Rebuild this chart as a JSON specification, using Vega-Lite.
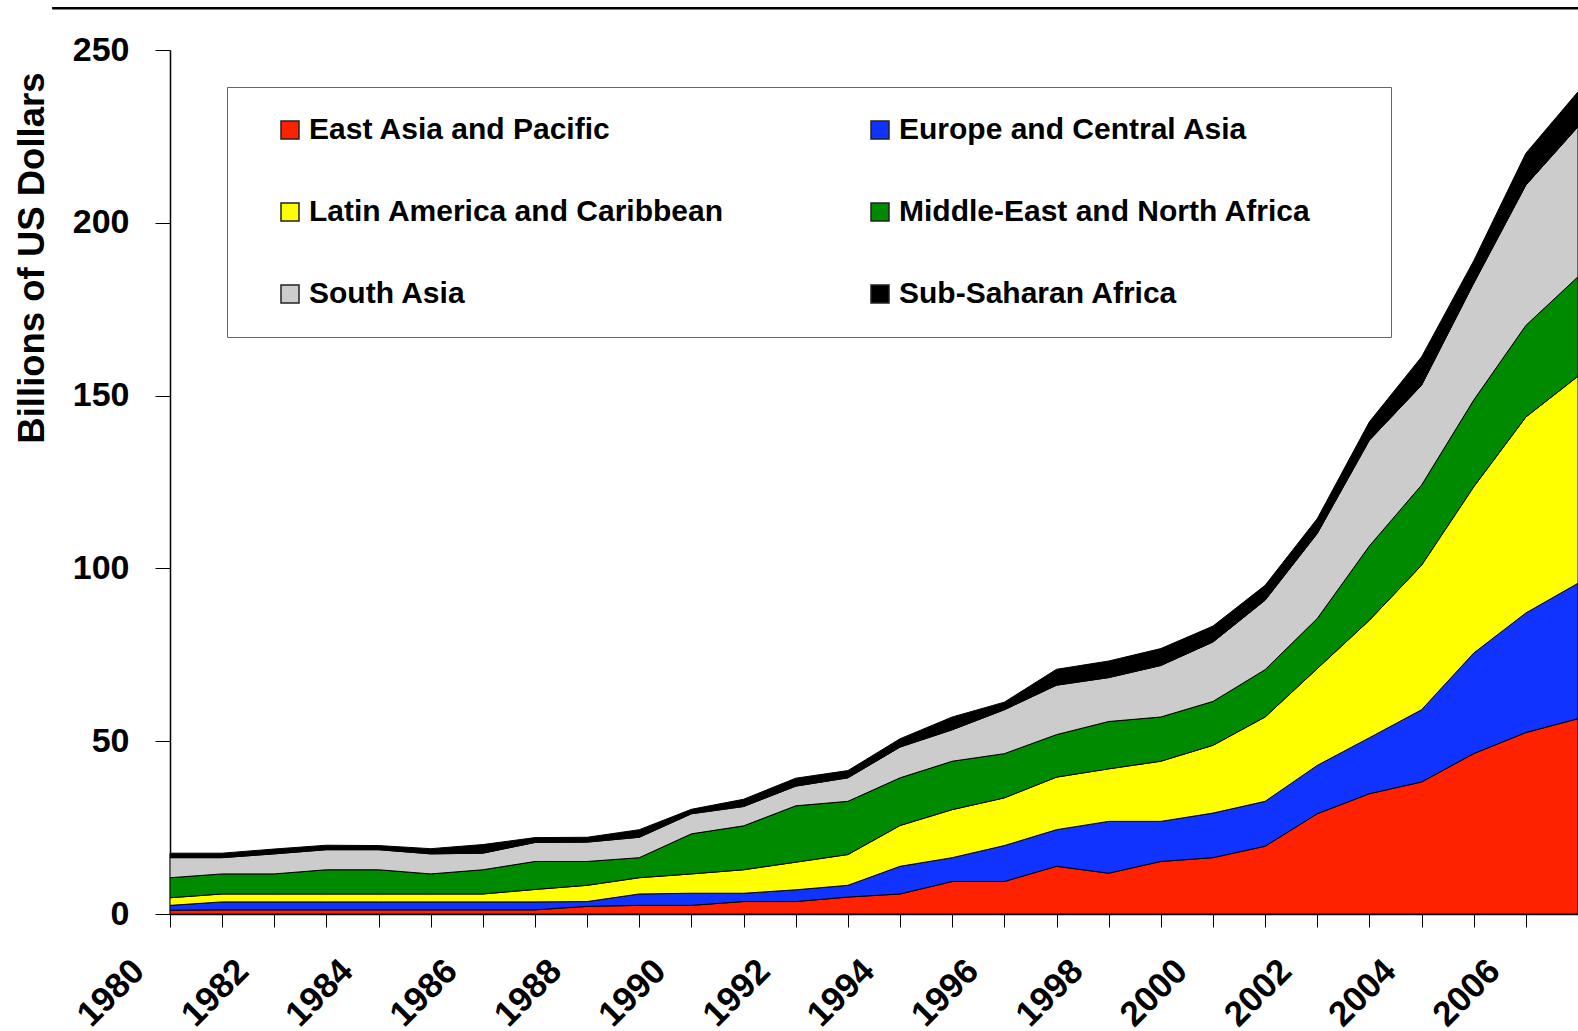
{
  "$schema": "https://vega.github.io/schema/vega-lite/v6.json",
  "width": 1408,
  "height": 864,
  "autosize": {"type": "none"},
  "padding": {"left": 170, "top": 50, "right": 0, "bottom": 117},
  "background": "white",
  "config": {"view": {"stroke": null}, "font": "Liberation Sans"},
  "layer": [
    {
      "data": {"values": [
        {"year": 1980, "East Asia and Pacific": 1.1, "Europe and Central Asia": 1.4, "Latin America and Caribbean": 2.2, "Middle-East and North Africa": 5.8, "South Asia": 5.8, "Sub-Saharan Africa": 1.3},
        {"year": 1981, "East Asia and Pacific": 1.2, "Europe and Central Asia": 2.3, "Latin America and Caribbean": 2.3, "Middle-East and North Africa": 5.8, "South Asia": 4.7, "Sub-Saharan Africa": 1.3},
        {"year": 1982, "East Asia and Pacific": 1.2, "Europe and Central Asia": 2.3, "Latin America and Caribbean": 2.3, "Middle-East and North Africa": 5.8, "South Asia": 5.8, "Sub-Saharan Africa": 1.4},
        {"year": 1983, "East Asia and Pacific": 1.2, "Europe and Central Asia": 2.3, "Latin America and Caribbean": 2.3, "Middle-East and North Africa": 7.0, "South Asia": 5.8, "Sub-Saharan Africa": 1.3},
        {"year": 1984, "East Asia and Pacific": 1.2, "Europe and Central Asia": 2.3, "Latin America and Caribbean": 2.3, "Middle-East and North Africa": 7.0, "South Asia": 5.8, "Sub-Saharan Africa": 1.2},
        {"year": 1985, "East Asia and Pacific": 1.2, "Europe and Central Asia": 2.3, "Latin America and Caribbean": 2.3, "Middle-East and North Africa": 5.8, "South Asia": 5.8, "Sub-Saharan Africa": 1.5},
        {"year": 1986, "East Asia and Pacific": 1.2, "Europe and Central Asia": 2.3, "Latin America and Caribbean": 2.3, "Middle-East and North Africa": 7.0, "South Asia": 4.8, "Sub-Saharan Africa": 2.5},
        {"year": 1987, "East Asia and Pacific": 1.2, "Europe and Central Asia": 2.3, "Latin America and Caribbean": 3.6, "Middle-East and North Africa": 8.1, "South Asia": 5.5, "Sub-Saharan Africa": 1.4},
        {"year": 1988, "East Asia and Pacific": 2.2, "Europe and Central Asia": 1.4, "Latin America and Caribbean": 4.7, "Middle-East and North Africa": 6.9, "South Asia": 5.6, "Sub-Saharan Africa": 1.4},
        {"year": 1989, "East Asia and Pacific": 2.5, "Europe and Central Asia": 3.3, "Latin America and Caribbean": 4.7, "Middle-East and North Africa": 5.8, "South Asia": 5.9, "Sub-Saharan Africa": 2.2},
        {"year": 1990, "East Asia and Pacific": 2.5, "Europe and Central Asia": 3.5, "Latin America and Caribbean": 5.6, "Middle-East and North Africa": 11.6, "South Asia": 5.8, "Sub-Saharan Africa": 1.3},
        {"year": 1991, "East Asia and Pacific": 3.6, "Europe and Central Asia": 2.4, "Latin America and Caribbean": 6.8, "Middle-East and North Africa": 12.7, "South Asia": 5.6, "Sub-Saharan Africa": 2.1},
        {"year": 1992, "East Asia and Pacific": 3.6, "Europe and Central Asia": 3.4, "Latin America and Caribbean": 8.0, "Middle-East and North Africa": 16.3, "South Asia": 5.7, "Sub-Saharan Africa": 2.3},
        {"year": 1993, "East Asia and Pacific": 4.9, "Europe and Central Asia": 3.4, "Latin America and Caribbean": 8.9, "Middle-East and North Africa": 15.4, "South Asia": 6.8, "Sub-Saharan Africa": 2.1},
        {"year": 1994, "East Asia and Pacific": 5.8, "Europe and Central Asia": 8.0, "Latin America and Caribbean": 11.8, "Middle-East and North Africa": 13.8, "South Asia": 8.9, "Sub-Saharan Africa": 2.4},
        {"year": 1995, "East Asia and Pacific": 9.4, "Europe and Central Asia": 6.9, "Latin America and Caribbean": 13.9, "Middle-East and North Africa": 14.0, "South Asia": 9.1, "Sub-Saharan Africa": 3.7},
        {"year": 1996, "East Asia and Pacific": 9.4, "Europe and Central Asia": 10.4, "Latin America and Caribbean": 13.8, "Middle-East and North Africa": 12.8, "South Asia": 12.7, "Sub-Saharan Africa": 2.2},
        {"year": 1997, "East Asia and Pacific": 13.8, "Europe and Central Asia": 10.6, "Latin America and Caribbean": 15.2, "Middle-East and North Africa": 12.3, "South Asia": 14.3, "Sub-Saharan Africa": 4.6},
        {"year": 1998, "East Asia and Pacific": 11.8, "Europe and Central Asia": 15.0, "Latin America and Caribbean": 15.2, "Middle-East and North Africa": 13.7, "South Asia": 12.7, "Sub-Saharan Africa": 4.8},
        {"year": 1999, "East Asia and Pacific": 15.2, "Europe and Central Asia": 11.6, "Latin America and Caribbean": 17.4, "Middle-East and North Africa": 12.8, "South Asia": 14.9, "Sub-Saharan Africa": 4.9},
        {"year": 2000, "East Asia and Pacific": 16.3, "Europe and Central Asia": 12.9, "Latin America and Caribbean": 19.6, "Middle-East and North Africa": 12.7, "South Asia": 17.2, "Sub-Saharan Africa": 4.6},
        {"year": 2001, "East Asia and Pacific": 19.6, "Europe and Central Asia": 13.0, "Latin America and Caribbean": 24.4, "Middle-East and North Africa": 13.7, "South Asia": 20.1, "Sub-Saharan Africa": 4.3},
        {"year": 2002, "East Asia and Pacific": 29.0, "Europe and Central Asia": 14.0, "Latin America and Caribbean": 28.0, "Middle-East and North Africa": 14.5, "South Asia": 24.6, "Sub-Saharan Africa": 4.3},
        {"year": 2003, "East Asia and Pacific": 34.8, "Europe and Central Asia": 16.2, "Latin America and Caribbean": 34.0, "Middle-East and North Africa": 21.5, "South Asia": 30.6, "Sub-Saharan Africa": 5.3},
        {"year": 2004, "East Asia and Pacific": 38.2, "Europe and Central Asia": 20.9, "Latin America and Caribbean": 41.8, "Middle-East and North Africa": 23.2, "South Asia": 28.9, "Sub-Saharan Africa": 8.2},
        {"year": 2005, "East Asia and Pacific": 46.4, "Europe and Central Asia": 29.1, "Latin America and Caribbean": 48.1, "Middle-East and North Africa": 25.1, "South Asia": 33.8, "Sub-Saharan Africa": 6.5},
        {"year": 2006, "East Asia and Pacific": 52.5, "Europe and Central Asia": 34.6, "Latin America and Caribbean": 56.7, "Middle-East and North Africa": 26.5, "South Asia": 40.6, "Sub-Saharan Africa": 9.2},
        {"year": 2007, "East Asia and Pacific": 56.5, "Europe and Central Asia": 39.2, "Latin America and Caribbean": 59.9, "Middle-East and North Africa": 28.8, "South Asia": 43.4, "Sub-Saharan Africa": 10.1}
      ]},
      "transform": [
        {"fold": ["East Asia and Pacific", "Europe and Central Asia", "Latin America and Caribbean", "Middle-East and North Africa", "South Asia", "Sub-Saharan Africa"], "as": ["region", "value"]}
      ],
      "mark": {"type": "area", "stroke": "black", "strokeWidth": 1, "opacity": 1, "fillOpacity": 1},
      "encoding": {
        "x": {
          "field": "year", "type": "quantitative",
          "scale": {"domain": [1980, 2007], "nice": false, "zero": false},
          "axis": {
            "title": null, "grid": false,
            "values": [1980,1981,1982,1983,1984,1985,1986,1987,1988,1989,1990,1991,1992,1993,1994,1995,1996,1997,1998,1999,2000,2001,2002,2003,2004,2005,2006,2007],
            "format": "d",
            "labelExpr": "datum.value % 2 === 0 ? datum.label : ''",
            "labelAngle": -45, "labelAlign": "right", "labelBaseline": "middle",
            "labelFontSize": 35, "labelFontWeight": "bold", "labelColor": "black", "labelFont": "Liberation Sans",
            "labelOffset": -32, "labelPadding": 38, "labelOverlap": false, "labelFlush": false, "labelBound": false,
            "tickSize": 13, "tickColor": "black", "tickWidth": 1,
            "domainColor": "black", "domainWidth": 1.5
          }
        },
        "y": {
          "field": "value", "type": "quantitative", "stack": "zero",
          "scale": {"domain": [0, 250], "nice": false},
          "axis": {
            "title": "Billions of US Dollars",
            "titleFontSize": 36.5, "titleFontWeight": "bold", "titleFont": "Liberation Sans", "titleColor": "black",
            "titleAngle": 270, "titleAlign": "right", "titleBaseline": "alphabetic",
            "titleX": -127, "titleY": 22,
            "grid": false, "values": [0, 50, 100, 150, 200, 250],
            "labelFontSize": 34, "labelFontWeight": "bold", "labelColor": "black", "labelFont": "Liberation Sans",
            "labelPadding": 26, "tickSize": 15, "tickColor": "black", "tickWidth": 1,
            "domainColor": "black", "domainWidth": 1.5
          }
        },
        "order": {"field": "region", "sort": "ascending"},
        "color": {
          "field": "region", "type": "nominal",
          "scale": {
            "domain": ["East Asia and Pacific", "Europe and Central Asia", "Latin America and Caribbean", "Middle-East and North Africa", "South Asia", "Sub-Saharan Africa"],
            "range": ["#FF2200", "#1133FF", "#FFFF00", "#008A00", "#CCCCCC", "#000000"]
          },
          "legend": {
            "title": " ", "titleOrient": "right", "titlePadding": 52, "titleFontSize": 30,
            "orient": "none", "legendX": 57, "legendY": 37,
            "columns": 2, "direction": "horizontal",
            "symbolType": "square", "symbolSize": 324,
            "symbolStrokeColor": "#222222", "symbolStrokeWidth": 1.5, "symbolOpacity": 1,
            "symbolOffset": 20,
            "labelFontSize": 30, "labelFontWeight": "bold", "labelFont": "Liberation Sans", "labelColor": "black",
            "labelLimit": 800, "labelOffset": 4,
            "rowPadding": 52, "columnPadding": 120, "padding": 28,
            "strokeColor": "#666666", "fillColor": "white"
          }
        }
      }
    },
    {
      "data": {"values": [{"year": 1977.74, "yearEnd": 2007, "value": 262.1}]},
      "mark": {"type": "rule", "color": "black", "strokeWidth": 2.5, "clip": false},
      "encoding": {
        "x": {"field": "year", "type": "quantitative"},
        "x2": {"field": "yearEnd"},
        "y": {"field": "value", "type": "quantitative"}
      }
    }
  ]
}
